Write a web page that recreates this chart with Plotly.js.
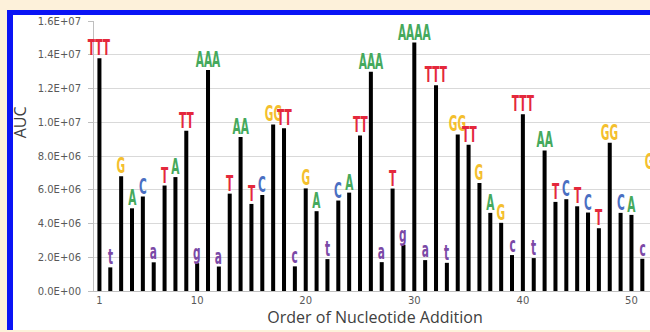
<!DOCTYPE html>
<html>
<head>
<meta charset="utf-8">
<script src="https://cdn.plot.ly/plotly-3.0.1.min.js"></script>
<style>
  html, body { margin: 0; padding: 0; background: #fdf1da; width: 650px; height: 332px; overflow: hidden; }
  #frame { position: absolute; left: 7px; top: 10px; width: 643px; height: 315px;
           border-left: 6px solid #0a14f5; border-top: 5px solid #0a14f5; background: #ffffff; overflow: hidden; }
  #chart { width: 643px; height: 315px; }
</style>
</head>
<body>
<div id="frame"><div id="chart"></div></div>
<script>
// Order of nucleotide addition (x categories)
const order = [1,2,3,4,5,6,7,8,9,10,11,12,13,14,15,16,17,18,19,20,21,22,23,24,25,26,
               27,28,29,30,31,32,33,34,35,36,37,38,39,40,41,42,43,44,45,46,47,48,49,50,51,52];
// AUC value for each addition
const auc = [1.38e7, 1.4e6, 6.8e6, 4.9e6, 5.6e6, 1.7e6, 6.25e6, 6.75e6, 9.5e6, 1.65e6,
             1.31e7, 1.45e6, 5.77e6, 9.12e6, 5.16e6, 5.69e6, 9.87e6, 9.64e6, 1.46e6, 6.08e6,
             4.73e6, 1.89e6, 5.36e6, 5.83e6, 9.22e6, 1.30e7, 1.71e6, 6.07e6, 2.74e6, 1.472e7,
             1.83e6, 1.22e7, 1.67e6, 9.28e6, 8.67e6, 6.4e6, 4.63e6, 4.04e6, 2.13e6, 1.048e7,
             1.95e6, 8.33e6, 5.28e6, 5.44e6, 5.02e6, 4.65e6, 3.72e6, 8.79e6, 4.63e6, 4.51e6,
             1.91e6, 7.07e6];
// Nucleotide label above each bar
const nucleotide = ["TTT","t","G","A","C","a","T","A","TT","g",
                    "AAA","a","T","AA","T","C","GG","TT","c","G",
                    "A","t","C","A","TT","AAA","a","T","g","AAAA",
                    "a","TTT","t","GG","TT","G","A","G","c","TTT",
                    "t","AA","T","C","T","C","T","GG","C","A",
                    "c","GG"];
// Axis tick labels
const yTickVals = [0, 2e6, 4e6, 6e6, 8e6, 1e7, 1.2e7, 1.4e7, 1.6e7];
const yTickText = ["0.0E+00","2.0E+06","4.0E+06","6.0E+06","8.0E+06","1.0E+07","1.2E+07","1.4E+07","1.6E+07"];
const xTickVals = [1, 10, 20, 30, 40, 50];

const letterColor = { T: "#e4283c", A: "#45a95c", G: "#f4bf2e", C: "#4a6fc2", t: "#7a48a6", a: "#7a48a6", g: "#7a48a6", c: "#7a48a6" };

const annotations = order.map((x, i) => ({
  x: x, y: auc[i], xref: "x", yref: "y",
  text: nucleotide[i], showarrow: false,
  yanchor: "bottom", xanchor: "center", yshift: -4,
  font: { family: "DejaVu Sans Condensed, DejaVu Sans, sans-serif", size: 21, weight: 700, color: letterColor[nucleotide[i][0]] }
}));
annotations.push({
  xref: "paper", yref: "paper", x: -0.131, y: 0.626, text: "AUC", textangle: -90,
  showarrow: false, xanchor: "center", yanchor: "middle",
  font: { family: "Open Sans, sans-serif", size: 16, color: "#404040" }
});

const trace = {
  type: "bar", x: order, y: auc,
  marker: { color: "#000000", line: { width: 0 } },
  width: 0.37, hoverinfo: "x+y"
};

const layout = {
  width: 643, height: 315,
  margin: { l: 81, r: 0, t: 6, b: 39, pad: 0 },
  paper_bgcolor: "#ffffff", plot_bgcolor: "#ffffff",
  showlegend: false,
  font: { family: "DejaVu Sans, sans-serif", color: "#595959" },
  xaxis: {
    range: [0.5, 52.26], tickvals: xTickVals, ticks: "", showgrid: false,
    showline: true, linecolor: "#bfbfbf", linewidth: 1, zeroline: false,
    tickfont: { family: "DejaVu Sans, sans-serif", size: 10, color: "#595959" },
    title: { text: "Order of Nucleotide Addition", font: { family: "Open Sans, sans-serif", size: 16, color: "#404040" }, standoff: 6 }
  },
  yaxis: {
    range: [0, 1.6e7], tickvals: yTickVals, ticktext: yTickText,
    ticks: "outside", ticklen: 5, tickcolor: "#bfbfbf", ticklabelstandoff: 5,
    showgrid: true, gridcolor: "#d9d9d9", gridwidth: 1,
    showline: true, linecolor: "#bfbfbf", linewidth: 1, zeroline: false,
    tickfont: { family: "DejaVu Sans, sans-serif", size: 10, color: "#595959" }
  },
  annotations: annotations
};

function condenseLabels() {
  document.querySelectorAll("#chart g.annotation text.annotation-text").forEach(t => {
    if (t.textContent === "AUC") return;
    t.style.transformBox = "fill-box";
    t.style.transformOrigin = "50% 100%";
    t.style.transform = "scaleX(0.56)";
  });
}

Plotly.newPlot("chart", [trace], layout, { staticPlot: true, displayModeBar: false }).then(condenseLabels);
</script>
</body>
</html>
